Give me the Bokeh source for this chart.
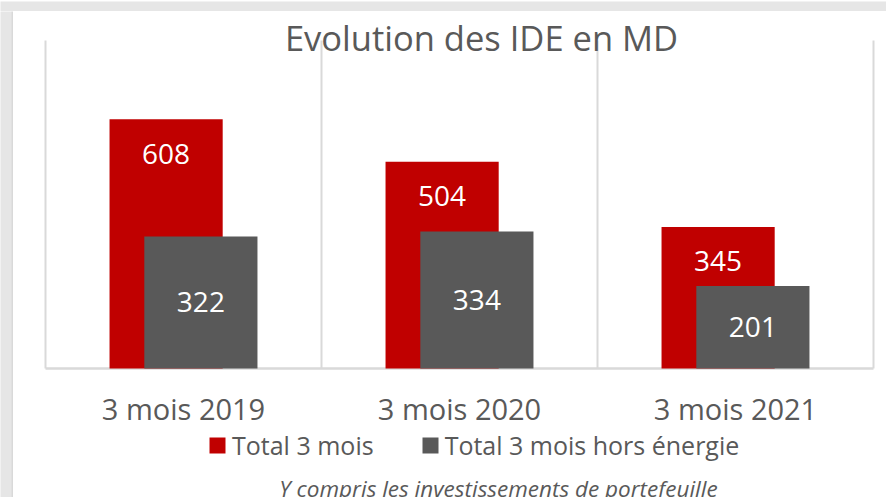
from bokeh.plotting import figure
from bokeh.layouts import column, row
from bokeh.models import (ColumnDataSource, FactorRange, Range1d, Label, BoxAnnotation,
                          Legend, LegendItem, LabelSet)
from bokeh.core.properties import value
from bokeh.transform import dodge
from bokeh.embed import file_html
from bokeh.resources import INLINE

categories = ["3 mois 2019", "3 mois 2020", "3 mois 2021"]
total = [608, 504, 345]
hors_energie = [322, 334, 201]
gridlines = [0, 1, 2, 3]
y_max = 800

RED = "#C00000"
GRAY = "#595959"
TXT = "#595959"
GRID = "#D9D9D9"
BAND = "#E6E6E6"
FONT = "Open Sans"

src = ColumnDataSource(dict(
    cat=categories,
    total=total,
    hors=hors_energie,
    total_lbl=[str(v) for v in total],
    hors_lbl=[str(v) for v in hors_energie],
    total_lbl_y=[v - 84 for v in total],
    hors_lbl_y=[v / 2 for v in hors_energie],
    cat_lbl_y=[-97.6] * len(categories),
))

PX = 0.41  # pixels per unit
p = figure(width=873, height=486,
           x_range=FactorRange(*categories, range_padding=2 * 13 / 828),
           y_range=Range1d(-129 / PX, 357 / PX), output_backend="svg", toolbar_location=None,
           min_border_left=19, min_border_right=0, min_border_top=0, min_border_bottom=0)
p.background_fill_color = "white"
p.border_fill_color = "white"
p.outline_line_color = None
p.grid.visible = False
p.axis.visible = False

# vertical separators and baseline
p.segment(x0=gridlines, y0=[0] * 4, x1=gridlines, y1=[y_max] * 4, line_color=GRID, line_width=2)
p.segment(x0=[0], y0=[0], x1=[3], y1=[0], line_color=GRID, line_width=2.5)

r1 = p.vbar(x=dodge("cat", -0.063, range=p.x_range), top="total", width=0.41,
            source=src, fill_color=RED, line_color=None)
r2 = p.vbar(x=dodge("cat", 0.063, range=p.x_range), top="hors", width=0.41,
            source=src, fill_color=GRAY, line_color=None)

p.add_layout(LabelSet(x=dodge("cat", -0.063, range=p.x_range), y="total_lbl_y", text="total_lbl",
                      source=src, text_align="center", text_baseline="middle",
                      text_color="white", text_font=value(FONT), text_font_size="28px"))
p.add_layout(LabelSet(x=dodge("cat", 0.063, range=p.x_range), y="hors_lbl_y", text="hors_lbl",
                      source=src, text_align="center", text_baseline="middle",
                      text_color="white", text_font=value(FONT), text_font_size="28px"))

# category labels
p.text(x="cat", y="cat_lbl_y", text="cat", source=src, text_align="center",
       text_baseline="middle", text_color=TXT, text_font=value(FONT), text_font_size="29px")

p.add_layout(Label(x=449, y=460, x_units="screen", y_units="screen",
                   text="Evolution des IDE en MD", text_align="center", text_baseline="middle",
                   text_font=FONT, text_font_size="34.5px", text_color=TXT))

legend = Legend(items=[LegendItem(label="Total 3 mois", renderers=[r1]),
                       LegendItem(label="Total 3 mois hors énergie", renderers=[r2])],
                orientation="horizontal", location=(175, 35),
                label_text_font=FONT, label_text_font_size="25px", label_text_color=TXT,
                glyph_width=20, glyph_height=20, spacing=46, padding=0, margin=0,
                border_line_color=None, background_fill_color=None, label_standoff=5)
p.add_layout(legend, "center")

p.add_layout(Label(x=466, y=9, x_units="screen", y_units="screen",
                   text="Y compris les investissements de portefeuille", text_align="center",
                   text_baseline="middle", text_font=FONT, text_font_style="italic",
                   text_font_size="22.5px", text_color=TXT))


def strip(w, h, dark_side):
    s = figure(width=w, height=h, x_range=Range1d(0, w), y_range=Range1d(0, h),
               output_backend="svg", toolbar_location=None, min_border=0)
    s.axis.visible = False
    s.grid.visible = False
    s.outline_line_color = None
    s.background_fill_color = BAND
    s.border_fill_color = BAND
    if dark_side == "right":
        s.add_layout(BoxAnnotation(left=w - 2, fill_color=GRID, fill_alpha=1, line_color=None))
    else:
        s.add_layout(BoxAnnotation(top=1.5, fill_color=GRID, fill_alpha=1, line_color=None))
    return s


top = strip(886, 11, "bottom")
left = strip(13, 486, "right")
layout = column(top, row(left, p, spacing=0), spacing=0)

open("out.html", "w").write(file_html(layout, INLINE))
